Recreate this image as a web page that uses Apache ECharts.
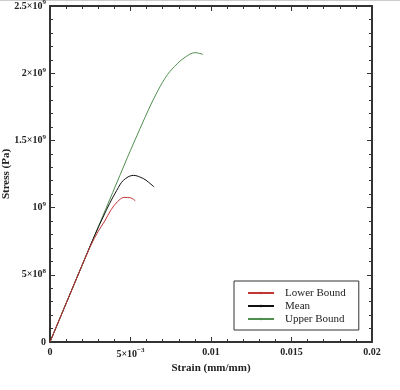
<!DOCTYPE html>
<html>
<head>
<meta charset="utf-8">
<script src="https://cdn.jsdelivr.net/npm/echarts@6/dist/echarts.min.js"></script>
<style>html,body{margin:0;padding:0;background:#fff}#c{width:400px;height:390px}</style>
</head>
<body>
<div id="c"></div>
<script>
// Data (strain in mm/mm, stress in Pa)
var seriesNames = ['Lower Bound', 'Mean', 'Upper Bound'];
var lowerStrain = [0, 0.0015, 0.0025, 0.003, 0.0034, 0.0038, 0.0042, 0.0046, 0.005, 0.0053];
var lowerStress = [0, 0.43e9, 0.71e9, 0.825e9, 0.90e9, 0.985e9, 1.045e9, 1.076e9, 1.073e9, 1.05e9];
var meanStrain = [0, 0.0015, 0.0028, 0.0033, 0.0037, 0.00415, 0.00456, 0.00518, 0.0058, 0.00611, 0.00647];
var meanStress = [0, 0.43e9, 0.80e9, 0.93e9, 1.03e9, 1.129e9, 1.203e9, 1.24e9, 1.216e9, 1.19e9, 1.153e9];
var upperStrain = [0, 0.0015, 0.003, 0.0048, 0.0056, 0.0062, 0.0067, 0.0073, 0.0079, 0.0084, 0.009, 0.0095];
var upperStress = [0, 0.43e9, 0.857e9, 1.37e9, 1.59e9, 1.75e9, 1.87e9, 1.99e9, 2.07e9, 2.12e9, 2.153e9, 2.14e9];
var xTickValues = [0, 0.005, 0.01, 0.015, 0.02];
var xTickLabels = ['0', '5×10{s|−3}', '0.01', '0.015', '0.02'];
var yTickValues = [0, 5e8, 1e9, 1.5e9, 2e9, 2.5e9];
var yTickLabels = ['0', '5×10{s|8}', '10{s|9}', '1.5×10{s|9}', '2×10{s|9}', '2.5×10{s|9}'];

function pairs(xs, ys) { return xs.map(function (x, i) { return [x, ys[i]]; }); }
function lookup(vals, labels) {
  return function (v) {
    for (var i = 0; i < vals.length; i++) if (Math.abs(vals[i] - v) < Math.abs(vals[1] - vals[0]) * 1e-6) return labels[i];
    return '';
  };
}
var font = 'Liberation Serif';
function rich() { return { s: { fontFamily: font, fontWeight: 'bold', fontSize: 7, color: '#222', verticalAlign: 'bottom', padding: [0, 0, 7, 0] } }; }
function axisLine() { return { show: true, onZero: false, lineStyle: { color: '#333', width: 2 } }; }
function tick() { return { show: true, inside: true, length: 5, lineStyle: { color: '#333', width: 1 } }; }
function minor() { return { show: true, splitNumber: 5, length: 3, lineStyle: { color: '#333', width: 1 } }; }

var chart = echarts.init(document.getElementById('c'), null, { renderer: 'canvas' });
chart.setOption({
  animation: false,
  backgroundColor: '#fff',
  grid: { left: 50, right: 28, top: 6, bottom: 48, containLabel: false, outerBoundsMode: 'none' },
  xAxis: [{
    type: 'value', min: 0, max: 0.02, interval: 0.005,
    name: 'Strain (mm/mm)', nameLocation: 'middle', nameGap: 21, nameMoveOverlap: false,
    nameTextStyle: { fontFamily: font, fontWeight: 'bold', fontSize: 11, color: '#222' },
    axisLine: axisLine(), axisTick: tick(), minorTick: minor(), splitLine: { show: false },
    axisLabel: { margin: 5, fontFamily: font, fontWeight: 'bold', fontSize: 10, color: '#222', rich: rich(), formatter: lookup(xTickValues, xTickLabels) }
  }, {
    type: 'value', min: 0, max: 0.02, interval: 0.005, position: 'top',
    axisLine: axisLine(), axisTick: tick(), minorTick: minor(), splitLine: { show: false }, axisLabel: { show: false }
  }],
  yAxis: [{
    type: 'value', min: 0, max: 2.5e9, interval: 5e8,
    name: 'Stress (Pa)', nameLocation: 'middle', nameGap: 38, nameRotate: 90, nameMoveOverlap: false,
    nameTextStyle: { fontFamily: font, fontWeight: 'bold', fontSize: 11, color: '#222' },
    axisLine: axisLine(), axisTick: tick(), minorTick: minor(), splitLine: { show: false },
    axisLabel: { margin: 4, fontFamily: font, fontWeight: 'bold', fontSize: 10, color: '#222', rich: rich(), formatter: lookup(yTickValues, yTickLabels) }
  }, {
    type: 'value', min: 0, max: 2.5e9, interval: 5e8, position: 'right',
    axisLine: axisLine(), axisTick: tick(), minorTick: minor(), splitLine: { show: false }, axisLabel: { show: false }
  }],
  legend: {
    orient: 'vertical', left: 234, top: 281,
    padding: [6, 13, 5, 13], itemGap: 1, itemWidth: 26, itemHeight: 3,
    borderColor: '#333', borderWidth: 1, backgroundColor: '#fff',
    textStyle: { fontFamily: font, fontSize: 11, color: '#222', lineHeight: 12, padding: [0, 0, 0, 6] },
    data: seriesNames
  },
  graphic: [{ type: 'line', shape: { x1: 0, y1: 0.5, x2: 400, y2: 0.5 }, style: { stroke: '#ccc', lineWidth: 1 } }],
  series: [
    { name: seriesNames[2], type: 'line', data: pairs(upperStrain, upperStress), smooth: 0.35, symbol: 'circle', symbolSize: 2, showSymbol: false, lineStyle: { color: '#4f8f4f', width: 1 }, itemStyle: { color: '#4f8f4f' }, z: 2 },
    { name: seriesNames[1], type: 'line', data: pairs(meanStrain, meanStress), smooth: 0.35, symbol: 'circle', symbolSize: 2, showSymbol: false, lineStyle: { color: '#111', width: 1 }, itemStyle: { color: '#111' }, z: 3 },
    { name: seriesNames[0], type: 'line', data: pairs(lowerStrain, lowerStress), smooth: 0.35, symbol: 'circle', symbolSize: 2, showSymbol: false, lineStyle: { color: '#c03535', width: 1 }, itemStyle: { color: '#c03535' }, z: 4 }
  ]
});
</script>
</body>
</html>
